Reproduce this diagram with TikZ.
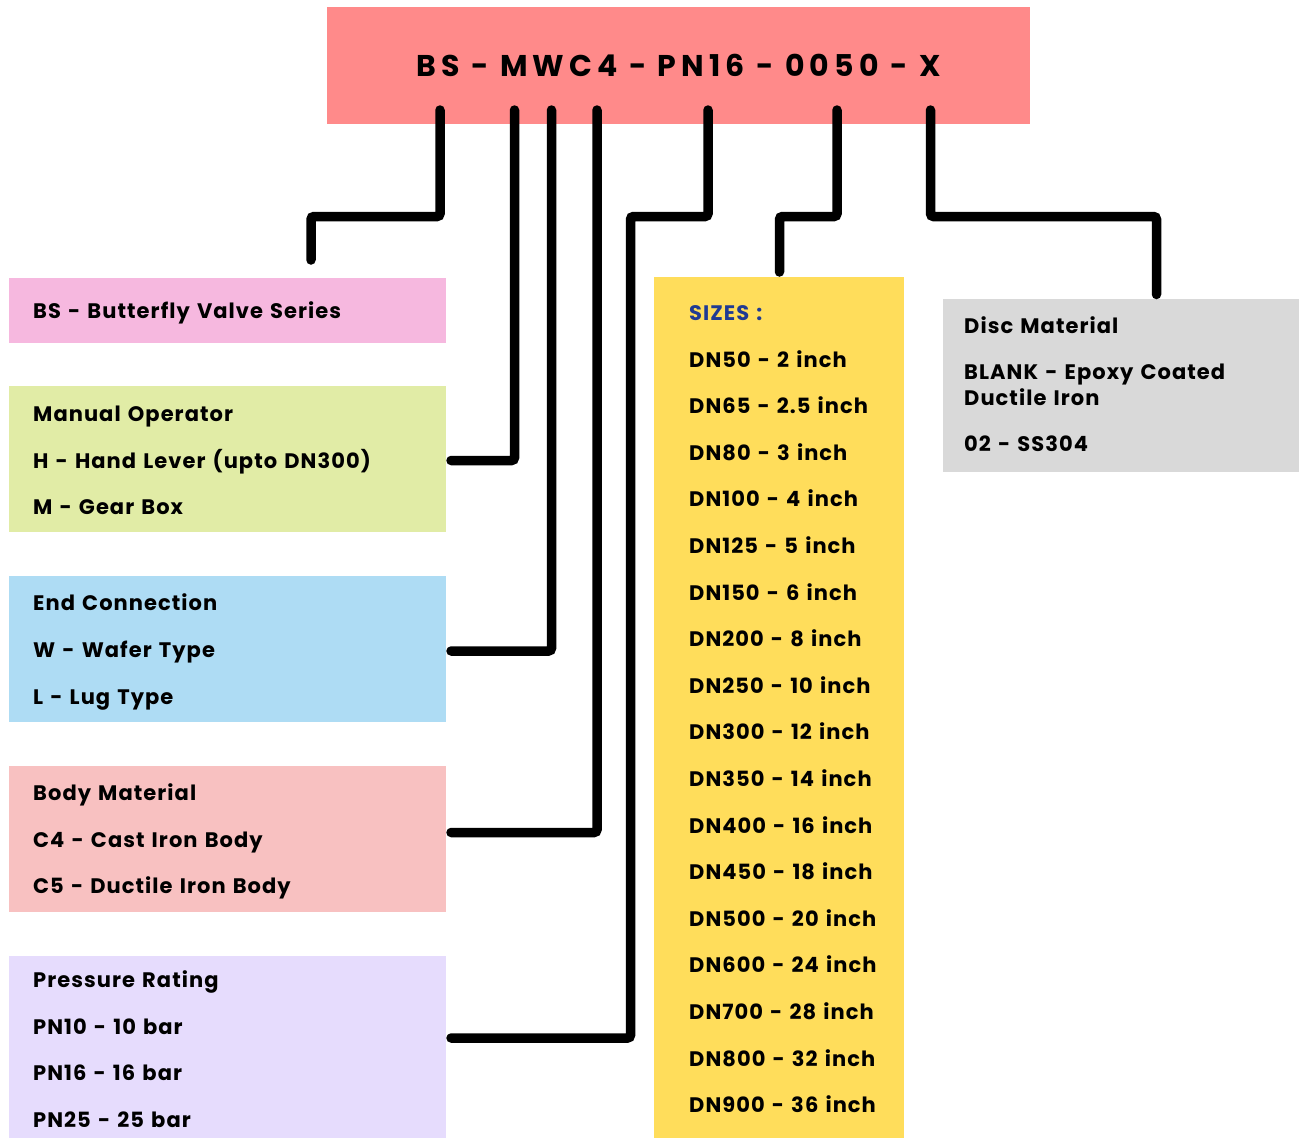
\documentclass[tikz,border=0pt]{standalone}
\usepackage{fontspec}
\setmainfont{Poppins}
\newfontfamily\entryfont{Poppins}[LetterSpace=5,WordSpace=1.3]
\newfontfamily\codefont{Poppins}[LetterSpace=17]
\usetikzlibrary{calc}
\definecolor{codebg}{HTML}{FF8A8A}
\definecolor{seriesbg}{HTML}{F6B8DF}
\definecolor{operbg}{HTML}{E1ECA6}
\definecolor{endbg}{HTML}{AEDCF4}
\definecolor{bodybg}{HTML}{F8C1C1}
\definecolor{pressbg}{HTML}{E6DCFD}
\definecolor{sizebg}{HTML}{FFDD5B}
\definecolor{discbg}{HTML}{D9D9D9}
\definecolor{sizehead}{HTML}{1F3A93}

\begin{document}
\begin{tikzpicture}[x=1pt,y=-1pt,
  panel/.style={anchor=north west,inner sep=0pt,outer sep=0pt},
  entry/.style={anchor=base west,inner sep=0pt,font=\entryfont\bfseries\fontsize{21}{25}\selectfont},
  link/.style={draw=black,line width=9.5pt,line cap=round,rounded corners=3pt}]

\useasboundingbox (0,0) rectangle (1299,1138);

% code box
\node[panel,fill=codebg,minimum width=703pt,minimum height=117pt] (code) at (327,7) {};
\node[font=\codefont\bfseries\fontsize{30}{35}\selectfont] (codetxt) at (code.center) {BS - MWC4 - PN16 - 0050 - X};

% panels
\node[panel,fill=seriesbg,minimum width=437pt,minimum height=65pt] (series) at (9,278) {};
\node[panel,fill=operbg,minimum width=437pt,minimum height=146pt] (oper) at (9,386) {};
\node[panel,fill=endbg,minimum width=437pt,minimum height=146pt] (endc) at (9,576) {};
\node[panel,fill=bodybg,minimum width=437pt,minimum height=146pt] (body) at (9,766) {};
\node[panel,fill=pressbg,minimum width=437pt,minimum height=182pt] (press) at (9,956) {};
\node[panel,fill=sizebg,minimum width=250pt,minimum height=861pt] (sizes) at (654,277) {};
\node[panel,fill=discbg,minimum width=356pt,minimum height=173pt] (disc) at (943,299) {};

% texts
\node[entry] (series0) at (33,318.5) {BS - Butterfly Valve Series};
\foreach \t [count=\i from 0] in {Manual Operator,H - Hand Lever (upto DN300),M - Gear Box}
  \node[entry] (oper\i) at (33,421.5+46.5*\i) {\t};
\foreach \t [count=\i from 0] in {End Connection,W - Wafer Type,L - Lug Type}
  \node[entry] (endc\i) at (33,610.5+47*\i) {\t};
\foreach \t [count=\i from 0] in {Body Material,C4 - Cast Iron Body,C5 - Ductile Iron Body}
  \node[entry] (body\i) at (33,800.5+46.5*\i) {\t};
\foreach \t [count=\i from 0] in {Pressure Rating,PN10 - 10 bar,PN16 - 16 bar,PN25 - 25 bar}
  \node[entry] (press\i) at (33,987.5+46.7*\i) {\t};

\node[entry,text=sizehead] (sizes0) at (689,320.5) {SIZES :};
\foreach \t [count=\i] in {DN50 - 2 inch,DN65 - 2.5 inch,DN80 - 3 inch,DN100 - 4 inch,
  DN125 - 5 inch,DN150 - 6 inch,DN200 - 8 inch,DN250 - 10 inch,DN300 - 12 inch,
  DN350 - 14 inch,DN400 - 16 inch,DN450 - 18 inch,DN500 - 20 inch,DN600 - 24 inch,
  DN700 - 28 inch,DN800 - 32 inch,DN900 - 36 inch}
  \node[entry] (sizes\i) at (689,320.5+46.6*\i) {\t};

\node[entry] (disc0) at (964,333.5) {Disc Material};
\node[entry] (disc1) at (964,379.5) {BLANK - Epoxy Coated};
\node[entry] (disc2) at (964,405.5) {Ductile Iron};
\node[entry] (disc3) at (964,451.5) {02 - SS304};

% connectors
\coordinate (s1) at (440,110);   \coordinate (e1) at (311,260);
\coordinate (s2) at (514.5,110); \coordinate (e2) at (451,460.5);
\coordinate (s3) at (551.5,110); \coordinate (e3) at (451,651);
\coordinate (s4) at (597,110);   \coordinate (e4) at (451,832.5);
\coordinate (s5) at (708,110);   \coordinate (e5) at (451,1038);
\coordinate (s6) at (837,110);   \coordinate (e6) at (779.5,272);
\coordinate (s7) at (930.5,110); \coordinate (e7) at (1156.5,294.5);
\coordinate (k5) at (630.5,1038);

\draw[link] (s1) -- ++(0,106.5) -| (e1);
\draw[link] (s2) |- (e2);
\draw[link] (s3) |- (e3);
\draw[link] (s4) |- (e4);
\draw[link] (s5) -- ++(0,106.5) -| (k5) -- (e5);
\draw[link] (s6) -- ++(0,106.5) -| (e6);
\draw[link] (s7) -- ++(0,106.5) -| (e7);

\end{tikzpicture}
\end{document}
